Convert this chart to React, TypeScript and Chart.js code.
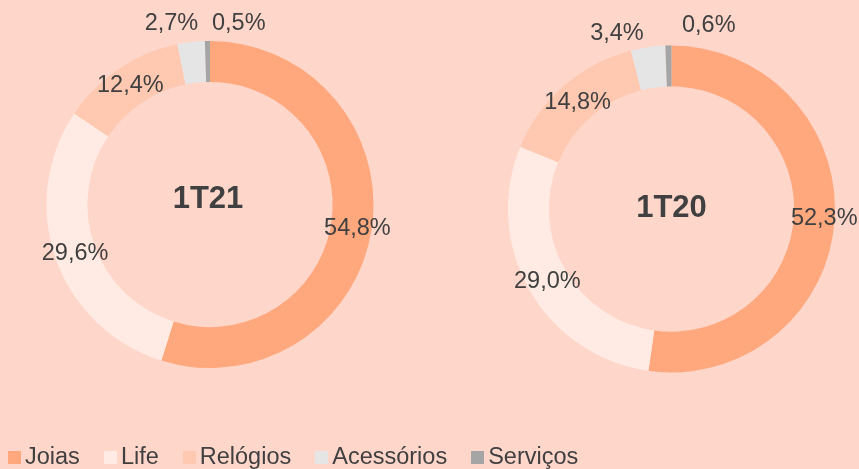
import React, { useEffect, useRef } from "react";
import { Chart, registerables } from "chart.js";

Chart.register(...registerables);

// ---- Data ----
const categories = ["Joias", "Life", "Relógios", "Acessórios", "Serviços"];
const values1T21 = [54.8, 29.6, 12.4, 2.7, 0.5];
const values1T20 = [52.3, 29.0, 14.8, 3.4, 0.6];
const periodLabels = ["1T21", "1T20"];

// ---- Styles ----
const BG = "#FFD6CA";
const TEXT = "#404040";
const COLORS = ["#FFA87D", "#FFEBE3", "#FFC8B0", "#E5E5E5", "#A5A5A5"];
const W = 859;
const H = 469;

// manual label nudges (px) relative to each arc's ring-centre point
const labelNudge1T21 = [[6, 3], [0, 1], [0, 0], [-22, -39], [31, -38]];
const labelNudge1T20 = [[10, -1], [0, 1.5], [0, 1], [-34, -34], [40, -40]];
const titleNudge1T21 = [-2, -5];
const titleNudge1T20 = [0, -1];

const fmt = (v: number) => v.toFixed(1).replace(".", ",") + "%";

function makeLabelPlugin(nudges: number[][], title: string, titleNudge: number[]) {
  return {
    id: "ringLabels",
    afterDatasetsDraw(chart: any) {
      const ctx = chart.ctx;
      const meta = chart.getDatasetMeta(0);
      const data = chart.data.datasets[0].data as number[];
      ctx.save();
      ctx.fillStyle = TEXT;
      ctx.textAlign = "center";
      ctx.textBaseline = "middle";
      ctx.font = "23.5px 'Liberation Sans', Arial, sans-serif";
      meta.data.forEach((arc: any, i: number) => {
        const p = arc.getProps(["x", "y", "startAngle", "endAngle", "innerRadius", "outerRadius"], true);
        const mid = (p.startAngle + p.endAngle) / 2;
        const r = (p.innerRadius + p.outerRadius) / 2;
        const x = p.x + Math.cos(mid) * r + nudges[i][0];
        const y = p.y + Math.sin(mid) * r + nudges[i][1];
        ctx.fillText(fmt(data[i]), x, y);
      });
      const a0 = meta.data[0];
      if (a0) {
        const c = a0.getProps(["x", "y"], true);
        ctx.font = "bold 31px 'Liberation Sans', Arial, sans-serif";
        ctx.fillText(title, c.x + titleNudge[0], c.y + titleNudge[1]);
      }
      ctx.restore();
    },
  };
}

function Donut(props: {
  values: number[];
  title: string;
  padding: { left: number; top: number; right: number; bottom: number };
  nudges: number[][];
  titleNudge: number[];
}) {
  const ref = useRef<HTMLCanvasElement | null>(null);
  useEffect(() => {
    if (!ref.current) return;
    const chart = new Chart(ref.current, {
      type: "doughnut",
      data: {
        labels: categories,
        datasets: [
          {
            data: props.values,
            backgroundColor: COLORS,
            borderWidth: 0,
            hoverOffset: 0,
            offset: 0,
          },
        ],
      },
      options: {
        responsive: false,
        animation: false,
        events: [],
        cutout: "75%",
        layout: { padding: props.padding },
        plugins: {
          legend: { display: false },
          tooltip: { enabled: false },
          title: { display: false },
        },
      },
      plugins: [makeLabelPlugin(props.nudges, props.title, props.titleNudge)],
    } as any);
    return () => chart.destroy();
  }, []);
  return (
    <canvas
      ref={ref}
      width={W}
      height={H}
      style={{ position: "absolute", left: 0, top: 0, width: W, height: H }}
    />
  );
}

export default function App() {
  return (
    <div
      style={{
        position: "fixed",
        left: 0,
        top: 0,
        width: W,
        height: H,
        background: BG,
        overflow: "hidden",
      }}
    >
      <Donut
        values={values1T21}
        title={periodLabels[0]}
        padding={{ left: 46.5, top: 41, right: W - 373.5, bottom: H - 368 }}
        nudges={labelNudge1T21}
        titleNudge={titleNudge1T21}
      />
      <Donut
        values={values1T20}
        title={periodLabels[1]}
        padding={{ left: 508, top: 45.5, right: W - 835, bottom: H - 372.5 }}
        nudges={labelNudge1T20}
        titleNudge={titleNudge1T20}
      />
      <div
        style={{
          position: "absolute",
          left: 8,
          top: 445,
          display: "flex",
          alignItems: "baseline",
          fontFamily: "'Liberation Sans', Arial, sans-serif",
          fontSize: 23.5,
          lineHeight: 1,
          color: TEXT,
          whiteSpace: "nowrap",
        }}
      >
        {categories.map((c, i) => (
          <span key={c} style={{ display: "flex", alignItems: "baseline", marginRight: 24 }}>
            <span
              style={{
                display: "inline-block",
                width: 13,
                height: 13,
                background: COLORS[i],
                marginRight: 4,
              }}
            />
            <span>{c}</span>
          </span>
        ))}
      </div>
    </div>
  );
}
